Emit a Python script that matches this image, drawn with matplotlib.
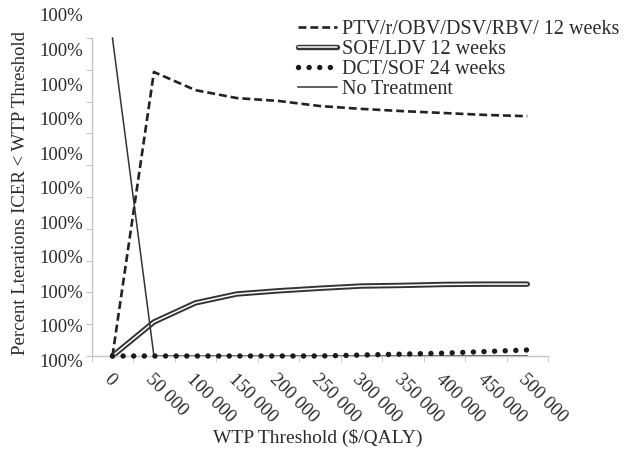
import numpy as np
import matplotlib
matplotlib.use("Agg")
import matplotlib.pyplot as plt
import matplotlib.patheffects as pe

plt.rcParams["font.family"] = ["Liberation Serif", "DejaVu Serif"]

# data
wtp_labels = ["0", "50 000", "100 000", "150 000", "200 000", "250 000",
              "300 000", "350 000", "400 000", "450 000", "500 000"]
ptv = [0.0, 0.893, 0.836, 0.811, 0.802, 0.786, 0.777, 0.770, 0.764, 0.758, 0.754]
sof = [0.0, 0.107, 0.167, 0.195, 0.205, 0.213, 0.220, 0.222, 0.225, 0.226, 0.226]
dct = [0.0, 0.0, 0.0, 0.0, 0.0, 0.0, 0.003, 0.006, 0.009, 0.014, 0.019]
no_treat = [1.0, 0.0, 0.0, 0.0, 0.0, 0.0, 0.0, 0.0, 0.0, 0.0, 0.0]
y_ticks = np.arange(0, 1.01, 0.1)
y_tick_text = ["100%"] * len(y_ticks)

text_col = "#2b2b2b"
axis_col = "#c4c4c4"

fig = plt.figure(figsize=(6.36, 4.5), dpi=100)
ax = fig.add_axes([0.1442, 0.2089, 0.7175, 0.7067])
x = np.arange(len(wtp_labels))

l1, = ax.plot(x, ptv, color="#222222", lw=1.9, linestyle=(0, (3.0, 1.5)),
              label="PTV/r/OBV/DSV/RBV/ 12 weeks", clip_on=False)
l2, = ax.plot(x, sof, color="white", lw=1.1, solid_capstyle="round",
              path_effects=[pe.Stroke(linewidth=3.9, foreground="#333333"), pe.Normal()],
              label="SOF/LDV 12 weeks", clip_on=False)
l4, = ax.plot(x, no_treat, color="#333333", lw=1.1, label="No Treatment", clip_on=False)
l3, = ax.plot(x, dct, color="#1a1a1a", lw=3.9, linestyle=(0, (0.01, 1.95)),
              dash_capstyle="round", label="DCT/SOF 24 weeks", clip_on=False, zorder=3)

ax.set_xlim(-0.5, 10.5)
ax.set_ylim(0, 1.0)

for s in ["top", "right"]:
    ax.spines[s].set_visible(False)
for s in ["left", "bottom"]:
    ax.spines[s].set_color(axis_col)
    ax.spines[s].set_linewidth(1.0)

# x axis: category labels centred, tick marks between categories
ax.set_xticks(x, wtp_labels)
ax.set_xticks(np.arange(-0.5, 11, 1), minor=True)
ax.tick_params(axis="x", which="major", length=0, pad=11, labelsize=13.5, labelcolor=text_col)
ax.tick_params(axis="x", which="minor", length=4, color=axis_col, direction="out")
for lab in ax.get_xticklabels():
    lab.set_rotation(-45)
    lab.set_ha("left")
    lab.set_va("top")
    lab.set_rotation_mode("anchor")

# y axis: tick marks, labels placed as in the original (slightly wider spacing)
ax.set_yticks(y_ticks)
ax.set_yticklabels([])
ax.tick_params(axis="y", length=4, color=axis_col, direction="out")
for i, t in enumerate(y_tick_text):
    ax.text(-0.019, -0.019 + 0.1085 * i, t, transform=ax.get_yaxis_transform(),
            ha="right", va="center", fontsize=13.5, color=text_col, clip_on=False)

ax.set_xlabel("WTP Threshold ($/QALY)", fontsize=14, color=text_col, va="center")
ax.xaxis.set_label_coords(0.496, -0.258)
ax.set_ylabel("Percent Lterations ICER < WTP Threshold", fontsize=13.5,
              color=text_col, va="center")
ax.yaxis.set_label_coords(-0.157, 0.513)

leg = ax.legend(handles=[l1, l2, l3, l4], loc="upper left",
                bbox_to_anchor=(298 / 636, 1 - 20 / 450),
                bbox_transform=fig.transFigure, frameon=False, fontsize=14.5,
                handlelength=1.95, handletextpad=0.25, labelspacing=0.05,
                borderpad=0, borderaxespad=0)
for t in leg.get_texts():
    t.set_color(text_col)

fig.savefig("out.png", dpi=100)
